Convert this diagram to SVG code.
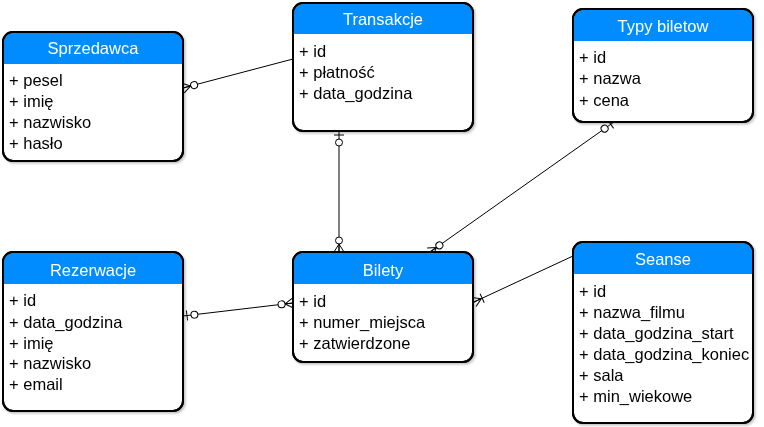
<svg xmlns="http://www.w3.org/2000/svg" width="764" height="427" viewBox="0 0 764 427">
<style>
.box{fill:#fff;stroke:#000;stroke-width:2}
.hdr{fill:#008cff}
.ttl{font-family:"Liberation Sans",Arial,sans-serif;font-size:16.5px;fill:#fff;text-anchor:middle}
.att{font-family:"Liberation Sans",Arial,sans-serif;font-size:16.5px;fill:#000}
.edge{fill:none;stroke:#000;stroke-width:1}
.mk{fill:none;stroke:#000;stroke-width:1}
.mc{fill:#fff;stroke:#000;stroke-width:1}
</style>
<defs>
<filter id="sh" x="-10%" y="-10%" width="130%" height="130%"><feDropShadow dx="1.5" dy="1.5" stdDeviation="1" flood-color="#000" flood-opacity="0.25"/></filter>
<marker id="zeroMany" markerUnits="userSpaceOnUse" viewBox="-20 -8 21 16" refX="0" refY="0" markerWidth="21" markerHeight="16" orient="auto-start-reverse" overflow="visible">
<path class="mk" d="M-8,0 L0,-5 M-8,0 L0,5 M-8,0 L0,0"/>
<circle class="mc" cx="-11.5" cy="0" r="3.5"/>
</marker>
<marker id="zeroOne" markerUnits="userSpaceOnUse" viewBox="-20 -8 21 16" refX="0" refY="0" markerWidth="21" markerHeight="16" orient="auto-start-reverse" overflow="visible">
<path class="mk" d="M-4,-5 L-4,5"/>
<circle class="mc" cx="-11.5" cy="0" r="3.5"/>
</marker>
<marker id="oneMany" markerUnits="userSpaceOnUse" viewBox="-20 -8 21 16" refX="0" refY="0" markerWidth="21" markerHeight="16" orient="auto-start-reverse" overflow="visible">
<path class="mk" d="M-8,0 L0,-5 M-8,0 L0,5 M-8,0 L0,0 M-9,-5 L-9,5"/>
</marker>
</defs>

<g id="connectors">
<path class="edge" d="M293,59 L183,88" marker-end="url(#zeroMany)"/>
<path class="edge" d="M339,131 L339,252" marker-start="url(#zeroOne)" marker-end="url(#zeroMany)"/>
<path class="edge" d="M614,122 L430,252" marker-start="url(#zeroOne)" marker-end="url(#zeroMany)"/>
<path class="edge" d="M183,316 L293,303" marker-start="url(#zeroOne)" marker-end="url(#zeroMany)"/>
<path class="edge" d="M573,256 L474,302" marker-end="url(#oneMany)"/>
</g>

<g id="sprzedawca" filter="url(#sh)">
<rect class="box" x="3" y="32" width="180" height="129" rx="10"/>
<path class="hdr" d="M4,64 L4,42 A9,9 0 0 1 13,33 L173,33 A9,9 0 0 1 182,42 L182,64 Z"/>
<rect class="box" x="3" y="32" width="180" height="129" rx="10" style="fill:none"/>
<text class="ttl" x="93" y="54">Sprzedawca</text>
<text class="att" x="9" y="86">+ pesel</text>
<text class="att" x="9" y="107">+ imię</text>
<text class="att" x="9" y="128">+ nazwisko</text>
<text class="att" x="9" y="149">+ hasło</text>
</g>

<g id="transakcje" filter="url(#sh)">
<rect class="box" x="293" y="3" width="180" height="128" rx="10"/>
<path class="hdr" d="M294,34 L294,13 A9,9 0 0 1 303,4 L463,4 A9,9 0 0 1 472,13 L472,34 Z"/>
<rect class="box" x="293" y="3" width="180" height="128" rx="10" style="fill:none"/>
<text class="ttl" x="383" y="25">Transakcje</text>
<text class="att" x="299" y="57">+ id</text>
<text class="att" x="299" y="78">+ płatność</text>
<text class="att" x="299" y="99">+ data_godzina</text>
</g>

<g id="typy_biletow" filter="url(#sh)">
<rect class="box" x="573" y="9" width="180" height="113" rx="10"/>
<path class="hdr" d="M574,41 L574,19 A9,9 0 0 1 583,10 L743,10 A9,9 0 0 1 752,19 L752,41 Z"/>
<rect class="box" x="573" y="9" width="180" height="113" rx="10" style="fill:none"/>
<text class="ttl" x="663" y="32">Typy biletow</text>
<text class="att" x="579" y="63">+ id</text>
<text class="att" x="579" y="84">+ nazwa</text>
<text class="att" x="579" y="106">+ cena</text>
</g>

<g id="rezerwacje" filter="url(#sh)">
<rect class="box" x="3" y="252" width="180" height="159" rx="10"/>
<path class="hdr" d="M4,284 L4,262 A9,9 0 0 1 13,253 L173,253 A9,9 0 0 1 182,262 L182,284 Z"/>
<rect class="box" x="3" y="252" width="180" height="159" rx="10" style="fill:none"/>
<text class="ttl" x="93" y="276">Rezerwacje</text>
<text class="att" x="9" y="306">+ id</text>
<text class="att" x="9" y="328">+ data_godzina</text>
<text class="att" x="9" y="349">+ imię</text>
<text class="att" x="9" y="369">+ nazwisko</text>
<text class="att" x="9" y="390">+ email</text>
</g>

<g id="bilety" filter="url(#sh)">
<rect class="box" x="293" y="252" width="180" height="110" rx="10"/>
<path class="hdr" d="M294,284 L294,262 A9,9 0 0 1 303,253 L463,253 A9,9 0 0 1 472,262 L472,284 Z"/>
<rect class="box" x="293" y="252" width="180" height="110" rx="10" style="fill:none"/>
<text class="ttl" x="383" y="276">Bilety</text>
<text class="att" x="299" y="307">+ id</text>
<text class="att" x="299" y="328">+ numer_miejsca</text>
<text class="att" x="299" y="349">+ zatwierdzone</text>
</g>

<g id="seanse" filter="url(#sh)">
<rect class="box" x="573" y="242" width="180" height="181" rx="10"/>
<path class="hdr" d="M574,274 L574,252 A9,9 0 0 1 583,243 L743,243 A9,9 0 0 1 752,252 L752,274 Z"/>
<rect class="box" x="573" y="242" width="180" height="181" rx="10" style="fill:none"/>
<text class="ttl" x="663" y="265">Seanse</text>
<text class="att" x="579" y="297">+ id</text>
<text class="att" x="579" y="318">+ nazwa_filmu</text>
<text class="att" x="579" y="339">+ data_godzina_start</text>
<text class="att" x="579" y="360">+ data_godzina_koniec</text>
<text class="att" x="579" y="381">+ sala</text>
<text class="att" x="579" y="402">+ min_wiekowe</text>
</g>
</svg>
